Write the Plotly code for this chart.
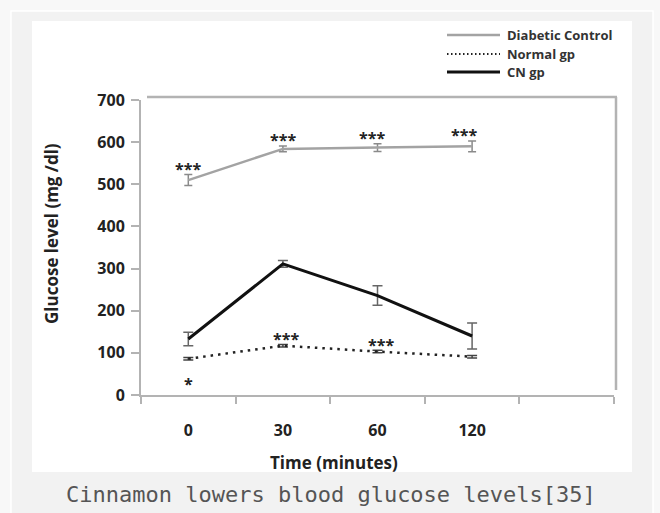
import plotly.graph_objects as go

# ---- data ----
times = ["0", "30", "60", "120"]
diabetic = [510, 584, 587, 590]
diabetic_err = [13, 7, 9, 13]
normal = [86, 117, 103, 91]
normal_err = [3, 3, 3, 3]
cn = [133, 311, 236, 140]
cn_err = [16, 8, 23, 31]
diabetic_sig = ["***", "***", "***", "***"]
normal_sig = ["", "***", "***", ""]
normal_sig_below = ["*", "", "", ""]
series_names = ["Diabetic Control", "Normal gp", "CN gp"]
caption = "Cinnamon lowers blood glucose levels[35]"

W, H = 660, 513
L, R, T, B = 141, 614, 100, 395


def px_x(p):
    return (p - L) / (R - L)


def px_y(p):
    return (B - p) / (B - T)


xi = list(range(len(times)))
FONT = "Open Sans"
AX = "#b3b3b3"

fig = go.Figure()
fig.add_trace(go.Scatter(
    x=xi, y=diabetic, mode="lines", name=series_names[0],
    line=dict(color="#a3a3a3", width=2.5),
    error_y=dict(type="data", array=diabetic_err, color="#8a8a8a", thickness=1.5, width=4),
))
fig.add_trace(go.Scatter(
    x=xi, y=normal, mode="lines", name=series_names[1],
    line=dict(color="#222222", width=2.5, dash="2.5px,5px"),
    error_y=dict(type="data", array=normal_err, color="#444444", thickness=1.5, width=5),
))
fig.add_trace(go.Scatter(
    x=xi, y=cn, mode="lines", name=series_names[2],
    line=dict(color="#111111", width=3),
    error_y=dict(type="data", array=cn_err, color="#666666", thickness=1.5, width=5),
))

annotations = []
sig_font = dict(family=FONT, size=16, color="#222", weight="bold")
xs_shift = [0, 0, -6, -8]
for i, s in enumerate(diabetic_sig):
    if s:
        annotations.append(dict(x=xi[i], y=diabetic[i] + diabetic_err[i], text=s, showarrow=False,
                                yanchor="bottom", yshift=-7, xshift=xs_shift[i], font=sig_font))
for i, s in enumerate(normal_sig):
    if s:
        annotations.append(dict(x=xi[i], y=normal[i], text=s, showarrow=False,
                                yanchor="bottom", yshift=-6, xshift=3, font=sig_font))
for i, s in enumerate(normal_sig_below):
    if s:
        annotations.append(dict(x=xi[i], y=normal[i], text=s, showarrow=False,
                                yanchor="top", yshift=-12, font=sig_font))

# axis titles and caption
annotations.append(dict(xref="paper", yref="paper", x=px_x(334), y=px_y(462), text="Time (minutes)",
                        showarrow=False, xanchor="center", yanchor="middle",
                        font=dict(family=FONT, size=17, color="#222", weight="bold")))
annotations.append(dict(xref="paper", yref="paper", x=px_x(51), y=px_y(234), text="Glucose level (mg /dl)",
                        textangle=-90, showarrow=False, xanchor="center", yanchor="middle",
                        font=dict(family=FONT, size=17, color="#222", weight="bold")))
annotations.append(dict(xref="paper", yref="paper", x=px_x(331), y=px_y(494), text=caption,
                        showarrow=False, xanchor="center", yanchor="middle",
                        font=dict(family="DejaVu Sans Mono", size=22, color="#555555")))

shapes = [
    dict(type="rect", xref="paper", yref="paper", x0=px_x(11), x1=px_x(653), y0=px_y(530), y1=px_y(11),
         fillcolor="#f2f2f2", line=dict(color="white", width=1.5), layer="below"),
    dict(type="rect", xref="paper", yref="paper", x0=px_x(32), x1=px_x(632), y0=px_y(472), y1=px_y(21),
         fillcolor="white", line=dict(width=0), layer="below"),
    dict(type="line", xref="paper", yref="paper", x0=px_x(147), x1=px_x(617), y0=px_y(97), y1=px_y(97),
         line=dict(color=AX, width=2.5), layer="below"),
    dict(type="line", xref="paper", yref="paper", x0=px_x(616), x1=px_x(616), y0=px_y(97), y1=px_y(390),
         line=dict(color=AX, width=2.5), layer="below"),
]

# manual legend
leg_styles = [dict(color="#a3a3a3", width=2.5), dict(color="#222", width=2, dash="1.5px,2.5px"),
              dict(color="#111", width=3)]
leg_y = [35, 54, 72]
for name, st, yy in zip(series_names, leg_styles, leg_y):
    shapes.append(dict(type="line", xref="paper", yref="paper", x0=px_x(447), x1=px_x(500),
                       y0=px_y(yy), y1=px_y(yy), line=st))
    annotations.append(dict(xref="paper", yref="paper", x=px_x(505), y=px_y(yy), text=name,
                            xanchor="left", yanchor="middle", showarrow=False,
                            font=dict(family=FONT, size=13, color="#333", weight="bold")))

fig.update_layout(
    width=W, height=H,
    margin=dict(l=L, r=W - R, t=T, b=H - B, pad=0),
    paper_bgcolor="#f8f8f8", plot_bgcolor="rgba(0,0,0,0)",
    showlegend=False,
    annotations=annotations, shapes=shapes,
    font=dict(family=FONT, color="#222"),
)
fig.update_xaxes(
    range=[-0.5, len(times) + 0.5], tickmode="array", tickvals=xi, ticktext=times,
    ticks="", showline=True, linecolor=AX, linewidth=2, showgrid=False, zeroline=False,
    tickfont=dict(family=FONT, size=16, color="#222", weight="bold"), ticklabelstandoff=20,
    minor=dict(tickmode="array", tickvals=[i - 0.5 for i in range(len(times) + 2)],
               ticks="outside", ticklen=7, tickcolor=AX, tickwidth=1.5, showgrid=False),
    fixedrange=True,
)
fig.update_yaxes(
    range=[0, 700], dtick=100, ticks="outside", ticklen=8, tickcolor=AX, tickwidth=1.5,
    showline=True, linecolor=AX, linewidth=2, showgrid=False, zeroline=False,
    tickfont=dict(family=FONT, size=16, color="#222", weight="bold"), ticklabelstandoff=3,
    fixedrange=True,
)

fig.write_html("out.html", config={"displayModeBar": False},
               post_script="document.body.style.margin='0';")
